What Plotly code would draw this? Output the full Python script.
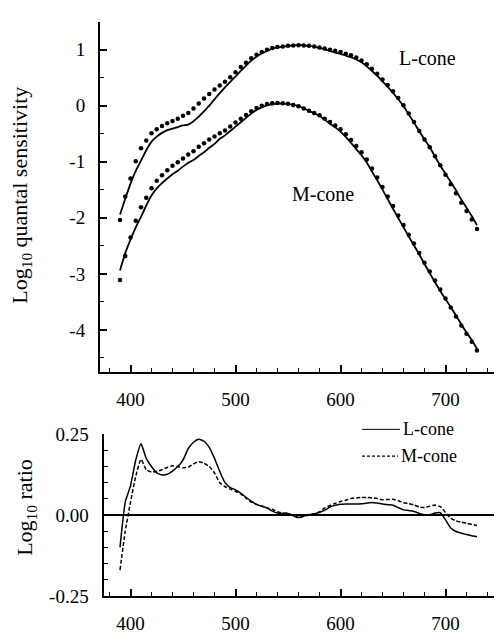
import plotly.graph_objects as go

W, H = 494, 634

# wavelength sampling (nm)
wavelength = list(range(390, 735, 5))

# log10 quantal sensitivity: measured points (dots) and fitted templates (lines)
l_cone_data = [
    -2.04, -1.62, -1.30, -0.99, -0.76, -0.62, -0.49, -0.42, -0.36, -0.31,
    -0.27, -0.23, -0.18, -0.13, -0.05, 0.04, 0.13, 0.21, 0.29, 0.36,
    0.43, 0.51, 0.60, 0.69, 0.77, 0.85, 0.91, 0.96, 1.00, 1.03,
    1.05, 1.06, 1.07, 1.075, 1.08, 1.075, 1.07, 1.06, 1.04, 1.02,
    1.00, 0.98, 0.96, 0.93, 0.90, 0.86, 0.81, 0.74, 0.66, 0.57,
    0.47, 0.37, 0.26, 0.14, 0.01, -0.14, -0.29, -0.45, -0.60, -0.74,
    -0.90, -1.06, -1.23, -1.40, -1.56, -1.73, -1.88, -2.03, -2.20,
]
l_cone_fit = [
    -1.94, -1.66, -1.39, -1.16, -0.98, -0.795, -0.64, -0.55, -0.484, -0.436,
    -0.406, -0.38, -0.35, -0.335, -0.275, -0.194, -0.098, 0.001, 0.115, 0.225,
    0.33, 0.425, 0.522, 0.622, 0.715, 0.807, 0.877, 0.933, 0.978, 1.018,
    1.044, 1.055, 1.065, 1.077, 1.088, 1.078, 1.07, 1.056, 1.032, 1.005,
    0.975, 0.95, 0.927, 0.896, 0.866, 0.826, 0.775, 0.703, 0.621, 0.533,
    0.436, 0.338, 0.23, 0.117, -0.006, -0.154, -0.301, -0.455, -0.601, -0.741,
    -0.906, -1.067, -1.215, -1.36, -1.509, -1.674, -1.82, -1.966, -2.133,
]
m_cone_data = [
    -3.11, -2.68, -2.35, -2.05, -1.81, -1.64, -1.47, -1.34, -1.24, -1.15,
    -1.07, -1.01, -0.94, -0.87, -0.81, -0.73, -0.67, -0.60, -0.55, -0.49,
    -0.44, -0.37, -0.30, -0.23, -0.165, -0.10, -0.04, 0.00, 0.03, 0.045,
    0.05, 0.045, 0.035, 0.015, -0.01, -0.05, -0.09, -0.13, -0.17, -0.23,
    -0.29, -0.35, -0.42, -0.51, -0.61, -0.72, -0.83, -0.96, -1.12, -1.28,
    -1.45, -1.62, -1.79, -1.96, -2.13, -2.30, -2.46, -2.63, -2.80, -2.96,
    -3.12, -3.28, -3.44, -3.60, -3.76, -3.92, -4.07, -4.21, -4.37,
]
m_cone_fit = [
    -2.94, -2.63, -2.39, -2.17, -1.982, -1.78, -1.603, -1.475, -1.38, -1.297,
    -1.222, -1.16, -1.086, -1.018, -0.968, -0.895, -0.83, -0.75, -0.68, -0.59,
    -0.528, -0.45, -0.373, -0.295, -0.217, -0.14, -0.073, -0.028, 0.008, 0.027,
    0.04, 0.039, 0.03, 0.017, -0.002, -0.046, -0.092, -0.134, -0.18, -0.252,
    -0.32, -0.386, -0.462, -0.556, -0.661, -0.773, -0.884, -1.014, -1.173, -1.331,
    -1.497, -1.668, -1.839, -2.004, -2.168, -2.335, -2.491, -2.655, -2.823, -2.987,
    -3.151, -3.306, -3.448, -3.59, -3.742, -3.898, -4.045, -4.181, -4.338,
]

# log10 ratio of data to fit
l_cone_ratio = [
    -0.10, 0.04, 0.09, 0.17, 0.22, 0.175, 0.15, 0.13, 0.124, 0.126,
    0.136, 0.15, 0.17, 0.205, 0.225, 0.234, 0.228, 0.209, 0.175, 0.135,
    0.10, 0.085, 0.078, 0.068, 0.055, 0.043, 0.033, 0.027, 0.022, 0.012,
    0.006, 0.005, 0.005, -0.002, -0.008, -0.003, 0.0, 0.004, 0.008, 0.015,
    0.025, 0.03, 0.033, 0.034, 0.034, 0.034, 0.035, 0.037, 0.039, 0.037,
    0.034, 0.032, 0.03, 0.023, 0.016, 0.014, 0.011, 0.005, 0.001, 0.001,
    0.006, 0.007, -0.015, -0.04, -0.051, -0.056, -0.06, -0.064, -0.067,
]
m_cone_ratio = [
    -0.17, -0.05, 0.04, 0.12, 0.172, 0.14, 0.133, 0.135, 0.14, 0.147,
    0.152, 0.15, 0.146, 0.148, 0.158, 0.165, 0.16, 0.15, 0.13, 0.10,
    0.088, 0.08, 0.073, 0.065, 0.052, 0.04, 0.033, 0.028, 0.022, 0.018,
    0.01, 0.006, 0.005, -0.002, -0.008, -0.004, 0.002, 0.004, 0.01, 0.022,
    0.03, 0.036, 0.042, 0.046, 0.051, 0.053, 0.054, 0.054, 0.053, 0.051,
    0.047, 0.048, 0.049, 0.044, 0.038, 0.035, 0.031, 0.025, 0.023, 0.027,
    0.031, 0.026, 0.008, -0.01, -0.018, -0.022, -0.025, -0.029, -0.032,
]

x_ticks = [400, 500, 600, 700]
sens_ticks = [-4, -3, -2, -1, 0, 1]
sens_labels = ["-4", "-3", "-2", "-1", "0", "1"]
ratio_ticks = [-0.25, 0.0, 0.25]
ratio_labels = ["-0.25", "0.00", "0.25"]

FONT = "Liberation Serif"
INK = "black"


def px(x):
    return x / W


def py(y):
    return 1 - y / H


fig = go.Figure()

# top panel: fits as lines, data as dots
for fit in (l_cone_fit, m_cone_fit):
    fig.add_trace(go.Scatter(x=wavelength, y=fit, mode="lines",
                             line=dict(color=INK, width=1.8, shape="spline", smoothing=0.6),
                             xaxis="x", yaxis="y", showlegend=False))
for data in (l_cone_data, m_cone_data):
    fig.add_trace(go.Scatter(x=wavelength, y=data, mode="markers",
                             marker=dict(color=INK, size=4.5),
                             xaxis="x", yaxis="y", showlegend=False))

# bottom panel: ratios
fig.add_trace(go.Scatter(x=wavelength, y=l_cone_ratio, mode="lines",
                         line=dict(color=INK, width=1.5, shape="spline", smoothing=0.5),
                         xaxis="x2", yaxis="y2", showlegend=False))
fig.add_trace(go.Scatter(x=wavelength, y=m_cone_ratio, mode="lines",
                         line=dict(color=INK, width=1.5, dash="4px,2px", shape="spline", smoothing=0.5),
                         xaxis="x2", yaxis="y2", showlegend=False))

tickfont = dict(family=FONT, size=19, color=INK)
common = dict(showgrid=False, showline=True, linecolor=INK, linewidth=2,
              ticks="inside", ticklen=7, tickwidth=1.5, tickcolor=INK,
              tickfont=tickfont, ticklabelstandoff=9)

x_scale = 1.05  # px per nm
x_right = 400 + (494 - 130.5) / x_scale
minor_x = dict(ticks="inside", ticklen=4, tickwidth=1.2, tickcolor=INK, dtick=20, tick0=400)
fig.update_layout(
    width=W, height=H, autosize=False,
    margin=dict(l=0, r=0, t=0, b=0),
    paper_bgcolor="white", plot_bgcolor="white",
    showlegend=False,
    xaxis=dict(domain=[px(100), 1], range=[400 + (100 - 130.5) / x_scale, x_right],
               anchor="y", tickmode="array", tickvals=x_ticks, minor=minor_x,
               zeroline=False, **common),
    yaxis=dict(domain=[py(378), py(12.25)], range=[-4.75, 1.5], anchor="x",
               tickmode="array", tickvals=sens_ticks, ticktext=sens_labels,
               minor=dict(ticks="inside", ticklen=4, tickwidth=1.2, tickcolor=INK, dtick=0.5, tick0=0),
               zeroline=False, **common),
    xaxis2=dict(domain=[px(103.5), 1], range=[400 + (103.5 - 130.5) / x_scale, x_right],
                anchor="y2", tickmode="array", tickvals=x_ticks, minor=minor_x,
                zeroline=False, **common),
    yaxis2=dict(domain=[py(612), py(443)], range=[-0.25, 0.25], anchor="x2",
                tickmode="array", tickvals=ratio_ticks, ticktext=ratio_labels,
                minor=dict(ticks="inside", ticklen=4, tickwidth=1.2, tickcolor=INK, dtick=0.05, tick0=0),
                zeroline=True, zerolinecolor=INK, zerolinewidth=1.5, **common),
)

label_font = dict(family=FONT, size=22, color=INK)
annotations = [
    dict(text="Log<sub>10</sub> quantal sensitivity", x=px(21), y=py(194),
         textangle=-90, font=label_font),
    dict(text="Log<sub>10</sub> ratio", x=px(26), y=py(520),
         textangle=-90, font=label_font),
    dict(text="L-cone", x=px(427), y=py(50), font=dict(family=FONT, size=20, color=INK)),
    dict(text="M-cone", x=px(323), y=py(192), font=dict(family=FONT, size=20, color=INK)),
    dict(text="L-cone", x=px(401), y=py(438), xanchor="left",
         font=dict(family=FONT, size=18, color=INK)),
    dict(text="M-cone", x=px(399), y=py(466), xanchor="left",
         font=dict(family=FONT, size=18, color=INK)),
]
for a in annotations:
    a.setdefault("xanchor", "center")
    fig.add_annotation(xref="paper", yref="paper", showarrow=False, yanchor="middle", **a)

# legend keys for the ratio panel
fig.add_shape(type="line", xref="paper", yref="paper", x0=px(362), x1=px(400), y0=py(438), y1=py(438),
              line=dict(color=INK, width=1))
fig.add_shape(type="line", xref="paper", yref="paper", x0=px(362), x1=px(398), y0=py(466), y1=py(466),
              line=dict(color=INK, width=1.2, dash="3px,2px"))

fig.write_html("out.html")
